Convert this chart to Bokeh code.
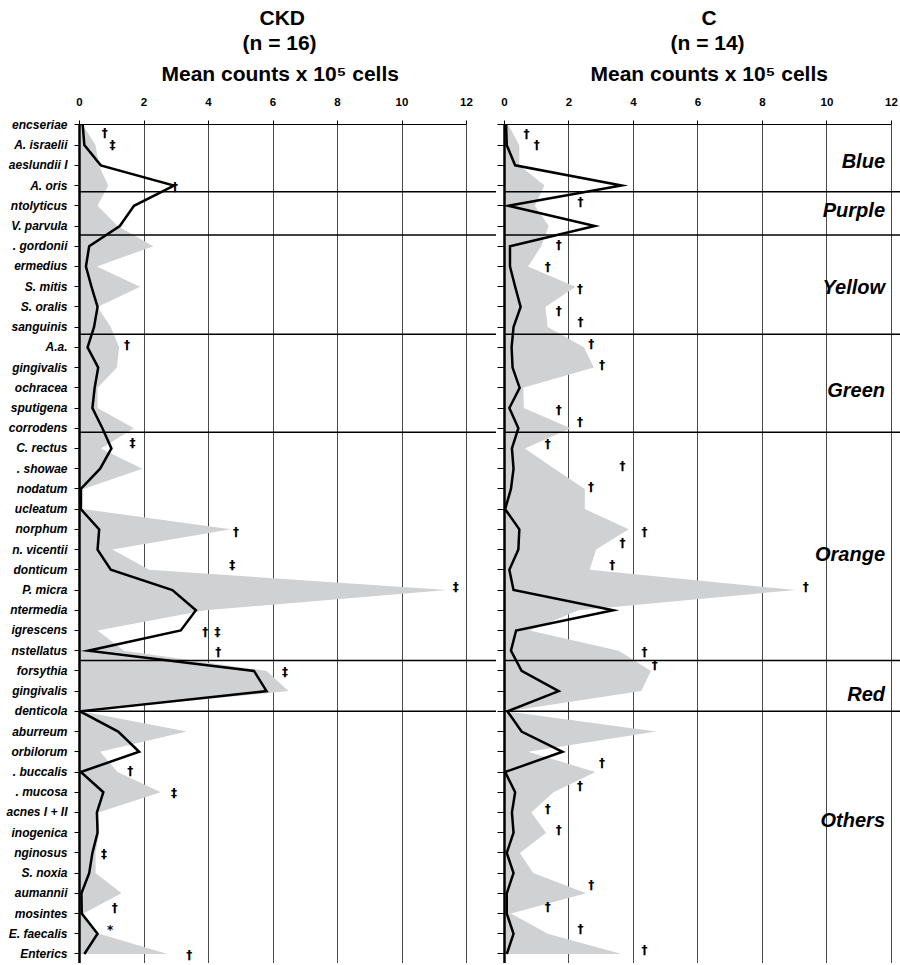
from bokeh.plotting import figure
from bokeh.models import Range1d, FixedTicker, Span, Title
from bokeh.layouts import row
from bokeh.embed import file_html
from bokeh.resources import INLINE
from bokeh.core.properties import value

FONT = "Liberation Sans"
MARK_FONT = "DejaVu Sans"

species = [
    "encseriae", "A. israelii", "aeslundii I", "A. oris",
    "ntolyticus", "V. parvula",
    ". gordonii", "ermedius", "S. mitis", "S. oralis", "sanguinis",
    "A.a.", "gingivalis", "ochracea", "sputigena", "corrodens",
    "C. rectus", ". showae", "nodatum", "ucleatum", "norphum", "n. vicentii",
    "donticum", "P. micra", "ntermedia", "igrescens", "nstellatus",
    "forsythia", "gingivalis", "denticola",
    "aburreum", "orbilorum", ". buccalis", ". mucosa", "acnes I + II",
    "inogenica", "nginosus", "S. noxia", "aumannii", "mosintes",
    "E. faecalis", "Enterics",
]

ckd_gray = [0.10, 0.50, 0.60, 0.89, 0.56, 1.18, 2.29, 0.54, 1.88, 0.56, 0.97,
            1.23, 1.16, 0.56, 0.56, 1.69, 0.66, 1.95, 0.12, 0.10, 4.69, 1.02,
            2.16, 11.40, 3.90, 0.56, 1.38, 5.80, 6.48, 0.05, 3.33, 0.64, 1.18,
            2.52, 0.58, 0.61, 0.50, 0.50, 1.30, 0.12, 0.61, 2.73]
ckd_line = [0.10, 0.15, 0.66, 2.93, 1.69, 1.25, 0.30, 0.20, 0.37, 0.56, 0.45,
            0.25, 0.58, 0.47, 0.40, 0.71, 0.99, 0.64, 0.04, 0.04, 0.61, 0.56,
            0.97, 2.88, 3.61, 3.14, 0.27, 5.41, 5.80, 0.02, 1.20, 1.85, 0.04,
            0.74, 0.54, 0.56, 0.40, 0.30, 0.06, 0.07, 0.56, 0.15]
c_gray = [0.12, 0.46, 0.46, 1.24, 0.94, 1.37, 1.14, 0.73, 2.20, 1.27, 1.34,
          2.46, 2.77, 0.58, 0.60, 2.05, 0.63, 1.55, 2.49, 2.49, 3.85, 2.84,
          2.64, 9.02, 2.30, 0.78, 3.54, 4.54, 4.24, 0.07, 4.70, 0.73, 2.82,
          1.52, 0.83, 1.29, 0.48, 0.89, 2.53, 0.20, 1.34, 3.63]
c_line = [0.05, 0.07, 0.33, 3.63, 0.12, 2.80, 0.17, 0.17, 0.33, 0.50, 0.28,
          0.22, 0.25, 0.47, 0.15, 0.43, 0.23, 0.28, 0.20, 0.02, 0.46, 0.43,
          0.15, 0.28, 3.37, 0.36, 0.20, 0.53, 1.68, 0.09, 0.53, 1.80, 0.02,
          0.33, 0.23, 0.28, 0.07, 0.28, 0.07, 0.07, 0.28, 0.07]

# significance marks (x value, row position, symbol)
ckd_mark_x = [0.78, 1.02, 2.96, 1.47, 1.64, 4.85, 4.74, 11.67, 3.90, 4.28,
              4.30, 6.37, 1.57, 2.93, 0.76, 1.09, 0.95, 3.40]
ckd_mark_y = [0.41, 1.00, 3.07, 10.90, 15.74, 20.13, 21.78, 22.85, 25.07, 25.07,
              26.06, 27.05, 31.95, 33.05, 36.07, 38.74, 39.83, 41.06]
ckd_mark_s = ["†", "‡", "†", "†", "‡", "†", "‡", "‡", "†", "‡",
              "†", "‡", "†", "‡", "‡", "†", "*", "†"]

c_mark_x = [0.68, 1.00, 2.36, 1.68, 1.34, 2.34, 1.68, 2.36, 2.69, 3.02,
            1.68, 2.34, 1.34, 3.66, 2.68, 4.34, 3.66, 3.34, 9.34, 4.34,
            4.66, 3.02, 2.34, 1.34, 1.68, 2.69, 1.34, 2.36, 4.34]
c_mark_y = [0.43, 1.00, 3.81, 5.95, 7.02, 8.13, 9.20, 9.74, 10.85, 11.88,
            14.11, 14.69, 15.76, 16.88, 17.93, 20.13, 20.70, 21.74, 22.85, 26.06,
            26.72, 31.55, 32.70, 33.81, 34.88, 37.60, 38.67, 39.74, 40.82]
c_mark_s = ["†"] * len(c_mark_x)

group_names = ["Blue", "Purple", "Yellow", "Green", "Orange", "Red", "Others"]
group_rows = [1.77, 4.22, 8.03, 13.12, 21.23, 28.14, 34.39]
group_label_x = 11.8

separators = [3.31, 5.45, 10.35, 15.2, 26.49, 29.0]
x_ticks = [0, 2, 4, 6, 8, 10, 12]

rows = list(range(len(species)))
zeros = [0] * len(species)

GRAY = "#d0d1d3"
H = 963


def make_panel(title_lines, title_offsets, gray, line, mx, my, ms, width,
               border_left, x_end, labels, tick_out, label_standoff):
    p = figure(width=width, height=H,
               x_range=Range1d(0, x_end), y_range=Range1d(41.47, -0.02),
               x_axis_location="above", output_backend="svg",
               toolbar_location=None,
               min_border_left=border_left, min_border_right=0,
               min_border_top=124, min_border_bottom=0)
    p.outline_line_color = None
    p.background_fill_color = "white"
    p.border_fill_color = "white"

    p.harea(x1=zeros, x2=gray, y=rows, fill_color=GRAY, fill_alpha=1.0)
    for s in separators:
        p.add_layout(Span(location=s, dimension="width",
                          line_color="black", line_width=1.5))
    p.line(line, rows, line_color="black", line_width=2.5, line_join="miter")
    p.text(x=mx, y=my, text=ms, text_font=value(MARK_FONT),
           text_font_size="12px", text_font_style="bold",
           text_align="center", text_baseline="middle", text_color="black")

    xa = p.xaxis[0]
    xa.ticker = FixedTicker(ticks=x_ticks)
    xa.bounds = (0, 12)
    xa.major_tick_out = 4
    xa.major_tick_in = 0
    xa.minor_tick_out = 0
    xa.minor_tick_in = 0
    xa.axis_line_color = "black"
    xa.axis_line_width = 1.2
    xa.major_tick_line_color = "black"
    xa.major_label_text_font = FONT
    xa.major_label_text_font_size = "11.5px"
    xa.major_label_text_font_style = "bold"
    xa.major_label_text_color = "black"
    xa.major_label_standoff = 15

    p.xgrid.ticker = FixedTicker(ticks=x_ticks[1:])
    p.xgrid.grid_line_color = "#4a4a4a"
    p.xgrid.grid_line_width = 1
    p.ygrid.visible = False

    ya = p.yaxis[0]
    ya.ticker = FixedTicker(ticks=rows)
    ya.major_label_overrides = {i: labels[i] for i in rows}
    ya.axis_line_color = "black"
    ya.axis_line_width = 2.5
    ya.major_tick_out = tick_out
    ya.major_tick_in = 0
    ya.minor_tick_out = 0
    ya.minor_tick_in = 0
    ya.major_tick_line_color = "black"
    ya.major_label_standoff = label_standoff
    ya.major_label_text_font = FONT
    ya.major_label_text_font_size = "12px"
    ya.major_label_text_font_style = "bold italic"
    ya.major_label_text_color = "black"

    for txt, so, off in zip(title_lines, [19, -6, 5], title_offsets):
        p.add_layout(Title(text=txt, align="left", text_font=FONT,
                           text_font_size="21px", text_font_style="bold",
                           text_color="black", standoff=so,
                           offset=off), "above")
    return p


p1 = make_panel(["Mean counts x 10⁵ cells", "(n = 16)", "CKD"], [82, 163, 180],
                ckd_gray, ckd_line, ckd_mark_x, ckd_mark_y, ckd_mark_s,
                width=496, border_left=79, x_end=12.93,
                labels=species, tick_out=5, label_standoff=7)

p2 = make_panel(["Mean counts x 10⁵ cells", "(n = 14)", "C"], [86, 166, 197],
                c_gray, c_line, c_mark_x, c_mark_y, c_mark_s,
                width=404, border_left=8, x_end=12.28,
                labels=[""] * len(species), tick_out=7, label_standoff=0)
p2.text(x=[group_label_x] * len(group_names), y=group_rows, text=group_names,
        text_font=value(FONT), text_font_size="20px",
        text_font_style="bold italic", text_align="right",
        text_baseline="middle", text_color="black")

layout = row(p1, p2)
open("out.html", "w").write(file_html(layout, INLINE))
